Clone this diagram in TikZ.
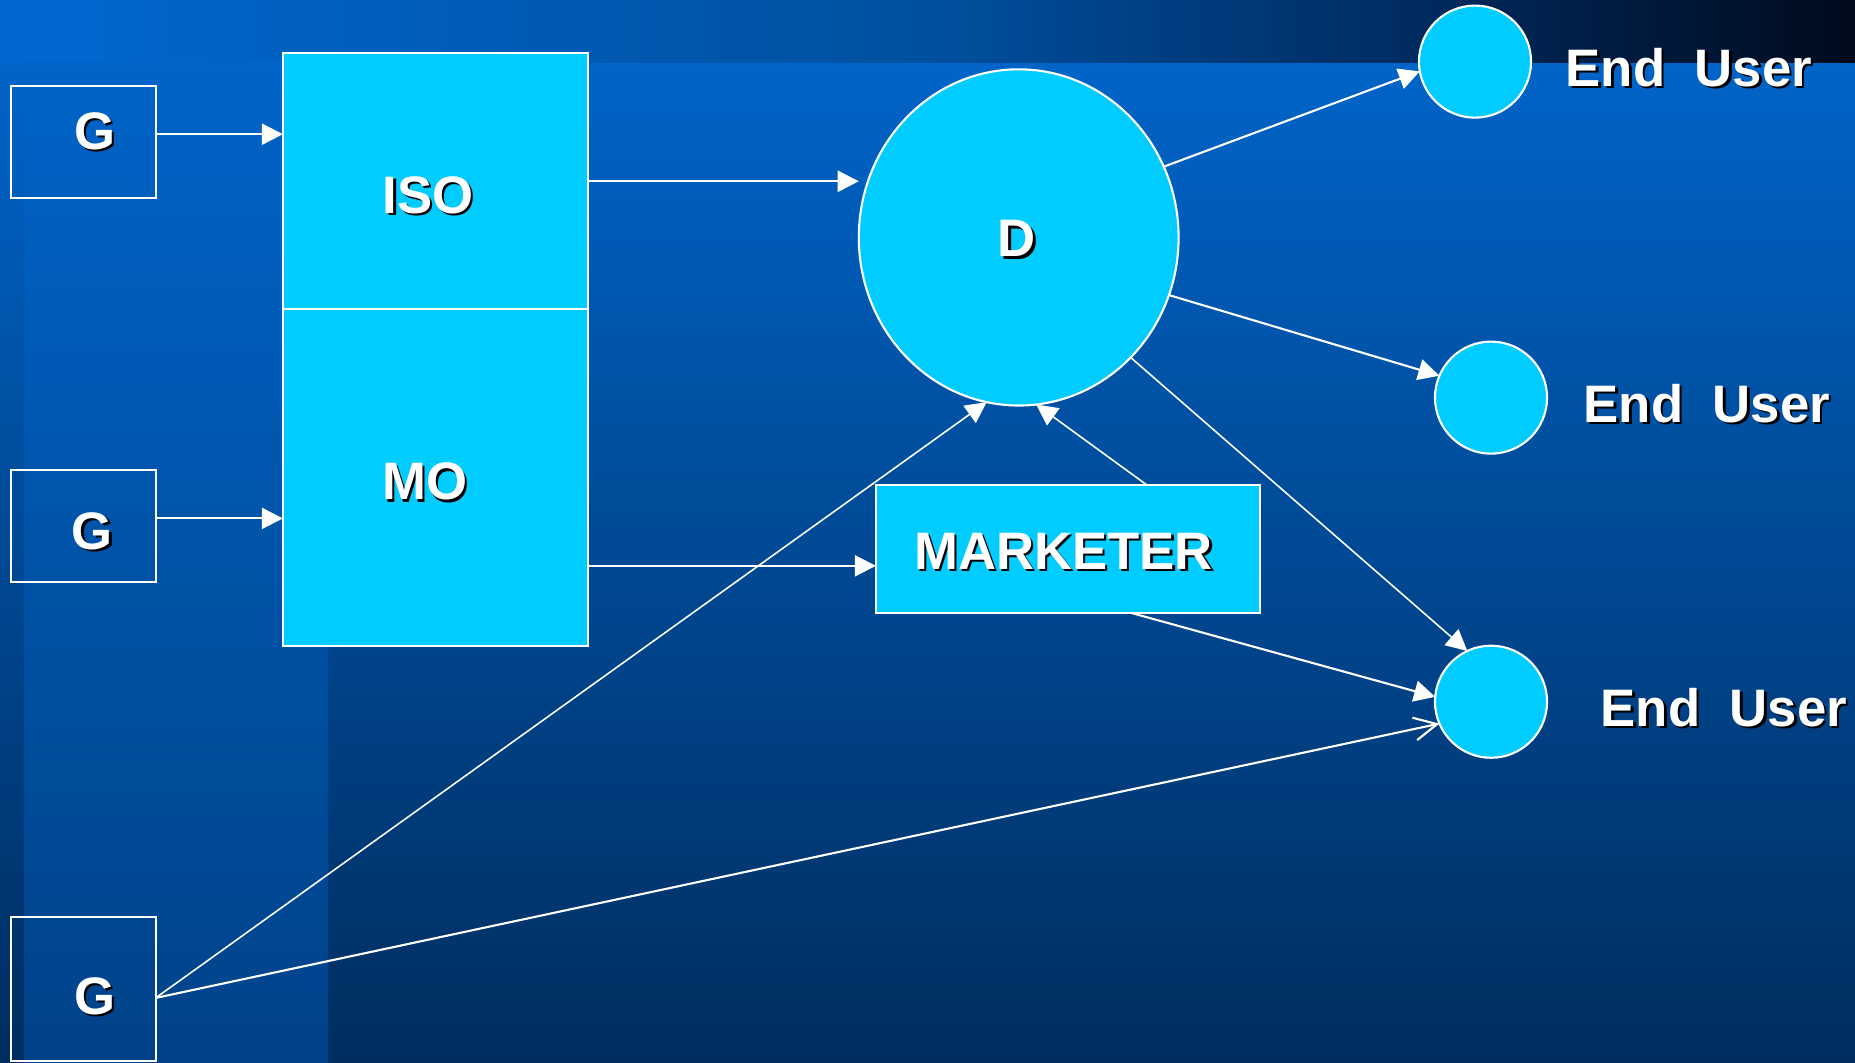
\documentclass[tikz,border=0pt]{standalone}
\usepackage{fontspec}
\setmainfont{Liberation Sans}
\usepackage{tikz}
\usetikzlibrary{arrows.meta,shapes.geometric}

\definecolor{boxfill}{RGB}{0,204,255}
\definecolor{bgtop}{RGB}{0,100,200}
\definecolor{bgbot}{RGB}{0,45,95}
\definecolor{stripbot}{RGB}{0,66,136}
\definecolor{bandA}{RGB}{0,104,208}
\definecolor{bandB}{RGB}{0,80,160}
\definecolor{bandC}{RGB}{0,45,100}
\definecolor{bandD}{RGB}{0,10,28}
\pgfdeclarehorizontalshading{topband}{100bp}{color(0bp)=(bandA); color(25bp)=(bandA); color(50bp)=(bandB); color(62.5bp)=(bandC); color(75bp)=(bandD); color(100bp)=(bandD)}
\newcommand{\shtxt}[1]{\makebox[0pt][l]{\kern0.7pt\raisebox{-0.7pt}{\color{black}#1}}#1}

\begin{document}
\begin{tikzpicture}[x=0.01cm,y=-0.01cm,
    box/.style={draw=white,line width=0.6pt,inner sep=0,outer sep=0},
    gbox/.style={box,minimum width=1.45cm},
    cbox/.style={box,fill=boxfill},
    user/.style={box,fill=boxfill,circle,minimum size=1.12cm},
    lbl/.style={text=white,inner sep=0,font=\fontsize{15}{18}\selectfont\bfseries},
    arr/.style={draw=white,line width=0.6pt,-{Triangle[length=6pt,width=6pt]}},
    thinarr/.style={arr,line width=0.45pt},
    openarr/.style={draw=white,line width=0.6pt,-{Straight Barb[length=6.5pt,width=6.5pt]}}]
  % background
  \useasboundingbox (0,0) rectangle (1855,1062);
  \shade[top color=bgtop,bottom color=bgbot] (0,62) rectangle (1855,1062);
  \shade[shading=topband] (0,0) rectangle (1855,62);
  \fill[bandA] (0,0) rectangle (103,62);
  \shade[top color=bgtop,bottom color=stripbot] (24,62) rectangle (328,1062);
  % generators
  \node[gbox,minimum height=1.12cm] (g1) at (83.1,141.8) {};
  \node[gbox,minimum height=1.12cm] (g2) at (83.1,526) {};
  \node[gbox,minimum height=1.44cm] (g3) at (83.1,989) {};
  \node[lbl] (g1t) at (94.6,132.5) {\shtxt{G}};
  \node[lbl] (g2t) at (92.3,532.4) {\shtxt{G}};
  \node[lbl] (g3t) at (94.6,997.3) {\shtxt{G}};
  % ISO / MO
  \node[cbox,minimum width=3.05cm,minimum height=2.555cm] (iso) at (435.5,181.25) {};
  \node[cbox,minimum width=3.05cm,minimum height=3.37cm] (mo) at (435.5,477.5) {};
  \node[lbl] (isot) at (428,196.4) {\shtxt{ISO}};
  \node[lbl] (mot) at (424.7,482.7) {\shtxt{MO}};
  % distributor and marketer
  \node[cbox,ellipse,minimum width=3.196cm,minimum height=3.36cm] (d) at (1018.7,237.4) {};
  \node[lbl] (dt) at (1017,240) {\shtxt{D}};
  \node[cbox,minimum width=3.835cm,minimum height=1.28cm] (mkt) at (1067.75,549) {};
  \node[lbl] (mktt) at (1063.5,552.5) {\shtxt{MARKETER}};
  % end users
  \node[user] (eu1) at (1475,61.6) {};
  \node[user] (eu2) at (1491,397.6) {};
  \node[user] (eu3) at (1491,701.7) {};
  \node[lbl,anchor=west] (eu1t) at (1565,68.6) {\shtxt{End\ \ User}};
  \node[lbl,anchor=west] (eu2t) at (1583,404.6) {\shtxt{End\ \ User}};
  \node[lbl,anchor=west] (eu3t) at (1600,708.6) {\shtxt{End\ \ User}};
  % connections
  \draw[arr] (g1.6) -- (iso.west |- g1.6);
  \draw[arr] (g2.6) -- (mo.west |- g2.6);
  \draw[arr] (iso.east) -- (iso.east -| d.west);
  \draw[arr] (mo.east |- mkt.185) -- (mkt.185);
  \draw[arr] (d.26.5) -- (eu1.190);
  \draw[arr] (d.-21) -- (eu2.157);
  \draw[thinarr] (d.-47) -- (eu3.115);
  \draw[thinarr] (mkt.39) -- (d.-84);
  \draw[thinarr] (g3.-7) -- (d.-101);
  \draw[arr] (mkt.-45) -- (eu3.175);
  \draw[openarr] (g3.-7) -- (eu3.203);
\end{tikzpicture}
\end{document}
